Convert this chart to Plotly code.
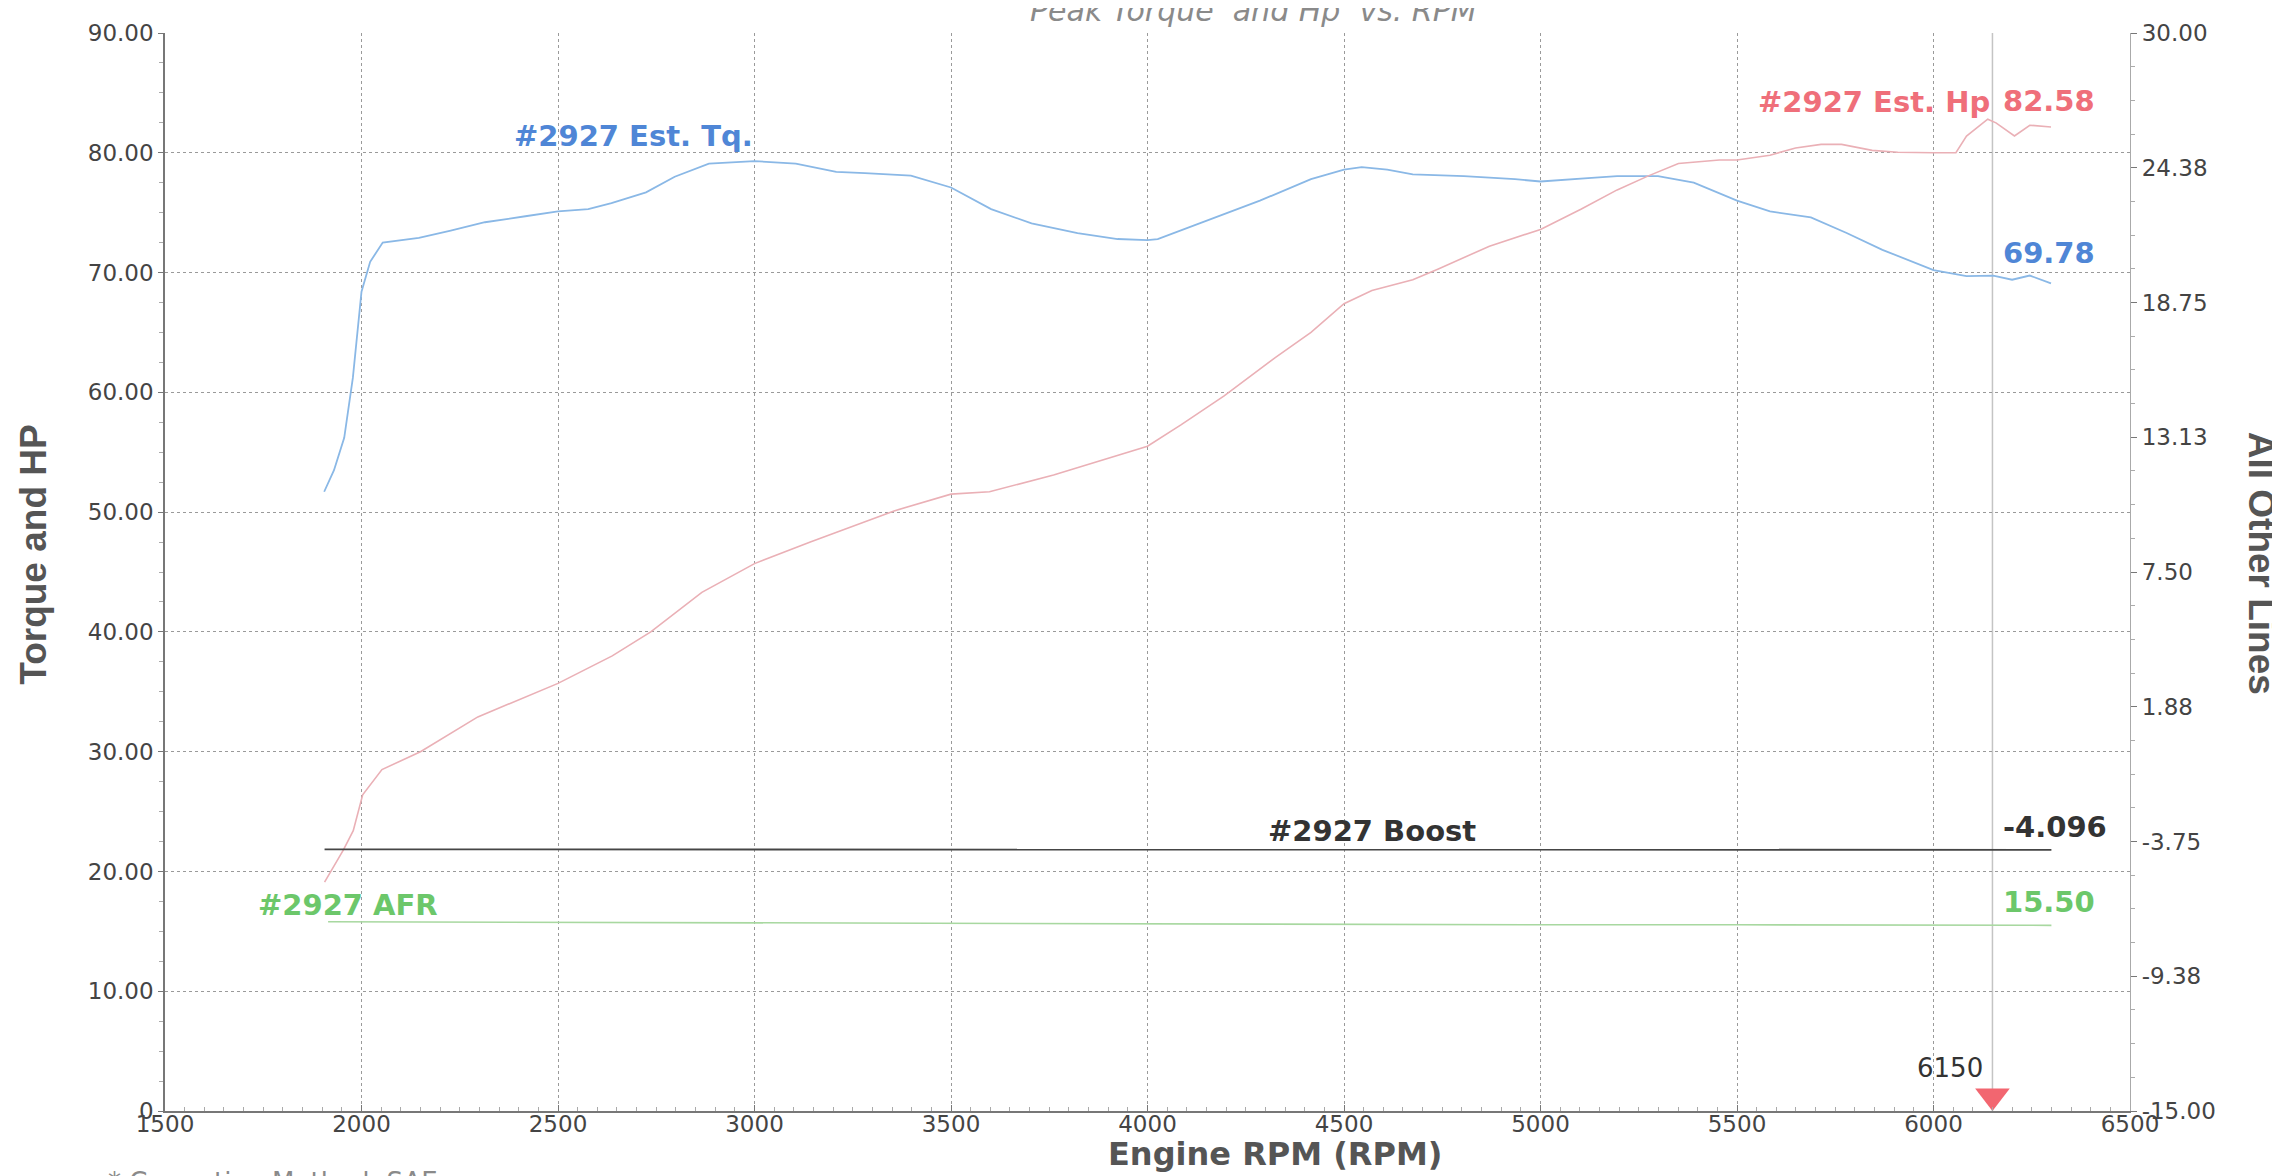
import plotly.graph_objects as go

# ---------------- data ----------------
tq_rpm = [1905, 1930, 1956, 1978, 2000, 2022, 2054, 2146, 2227, 2314, 2417, 2500, 2577, 2636,
          2724, 2797, 2884, 2943, 3000, 3105, 3208, 3281, 3398, 3500, 3602, 3705, 3822, 3924,
          4000, 4026, 4156, 4286, 4416, 4500, 4545, 4610, 4675, 4805, 4935, 5000, 5130, 5195,
          5299, 5390, 5500, 5584, 5688, 5779, 5870, 6000, 6084, 6152, 6200, 6245, 6299]
tq_val = [51.7, 53.5, 56.2, 61.2, 68.4, 70.9, 72.5, 72.9, 73.5, 74.2, 74.7, 75.1, 75.3, 75.8,
          76.7, 78.0, 79.1, 79.2, 79.3, 79.1, 78.4, 78.3, 78.1, 77.1, 75.3, 74.1, 73.3, 72.8,
          72.7, 72.8, 74.4, 76.0, 77.8, 78.6, 78.8, 78.6, 78.2, 78.05, 77.8, 77.6, 77.9, 78.05,
          78.05, 77.5, 76.0, 75.1, 74.6, 73.3, 71.9, 70.2, 69.7, 69.75, 69.4, 69.75, 69.1]

hp_rpm = [1906, 1954, 1979, 2003, 2052, 2150, 2296, 2500, 2638, 2736, 2866, 3000, 3142, 3355,
          3500, 3598, 3761, 4000, 4086, 4195, 4325, 4416, 4500, 4571, 4675, 4740, 4870, 5000,
          5104, 5195, 5273, 5351, 5455, 5500, 5584, 5649, 5714, 5766, 5844, 5909, 6000, 6057,
          6084, 6138, 6159, 6206, 6245, 6299]
hp_val = [19.1, 21.8, 23.4, 26.4, 28.5, 30.0, 32.9, 35.7, 38.0, 40.0, 43.3, 45.7, 47.5, 50.1,
          51.5, 51.7, 53.1, 55.5, 57.3, 59.7, 62.9, 65.0, 67.4, 68.5, 69.4, 70.3, 72.2, 73.6,
          75.3, 76.9, 78.05, 79.1, 79.4, 79.4, 79.8, 80.4, 80.7, 80.7, 80.2, 80.05, 80.0, 80.0,
          81.4, 82.8, 82.5, 81.4, 82.3, 82.15]

afr_rpm = [1915, 2500, 3000, 3500, 4000, 4500, 5000, 5500, 6000, 6300]
afr_val = [15.8, 15.75, 15.7, 15.65, 15.65, 15.6, 15.55, 15.55, 15.5, 15.5]

boost_rpm = [1906, 3000, 4000, 5000, 6000, 6300]
boost_val = [-4.08, -4.08, -4.08, -4.09, -4.096, -4.096]

marker_rpm = 6150

x_ticks = [1500, 2000, 2500, 3000, 3500, 4000, 4500, 5000, 5500, 6000, 6500]
left_ticks = [0, 10, 20, 30, 40, 50, 60, 70, 80, 90]
left_ticktext = ["0", "10.00", "20.00", "30.00", "40.00", "50.00", "60.00", "70.00", "80.00", "90.00"]
right_ticks = [-15, -9.375, -3.75, 1.875, 7.5, 13.125, 18.75, 24.375, 30]
right_ticktext = ["-15.00", "-9.38", "-3.75", "1.88", "7.50", "13.13", "18.75", "24.38", "30.00"]

# ---------------- styles ----------------
FONT = "DejaVu Sans, Verdana, sans-serif"
FONT_N = "Liberation Sans, Arial, sans-serif"
C_TQ_LINE = "#8ab8e6"
C_TQ_TXT = "#4f86d6"
C_HP_LINE = "#eab0b6"
C_HP_TXT = "#ef6f7a"
C_AFR_LINE = "#a8d8a0"
C_AFR_TXT = "#6cc76a"
C_BOOST = "#454545"
GRID = "#9a9a9a"
AX = "#777777"
TICKFONT = dict(family=FONT, size=23, color="#444444")

fig = go.Figure()

fig.add_trace(go.Scatter(x=tq_rpm, y=tq_val, mode="lines", line=dict(color=C_TQ_LINE, width=1.8),
                         name="#2927 Est. Tq.", yaxis="y"))
fig.add_trace(go.Scatter(x=hp_rpm, y=hp_val, mode="lines", line=dict(color=C_HP_LINE, width=1.6),
                         name="#2927 Est. Hp", yaxis="y"))
fig.add_trace(go.Scatter(x=afr_rpm, y=afr_val, mode="lines", line=dict(color=C_AFR_LINE, width=1.6),
                         name="#2927 AFR", yaxis="y"))
fig.add_trace(go.Scatter(x=boost_rpm, y=boost_val, mode="lines", line=dict(color=C_BOOST, width=1.8),
                         name="#2927 Boost", yaxis="y2"))
fig.add_trace(go.Scatter(x=[marker_rpm], y=[1.25], mode="markers",
                         marker=dict(symbol="triangle-down", size=30, color="#f26670", line=dict(width=0)),
                         yaxis="y", showlegend=False))

fig.add_shape(type="line", xref="x", yref="paper", x0=marker_rpm, x1=marker_rpm, y0=0, y1=1,
              line=dict(color="#c4c4c4", width=1.5), layer="below")


def ann(text, x, y, color, size=29, bold=True, xref="x", yref="y", family=FONT,
        xanchor="center", yanchor="middle", **kw):
    fig.add_annotation(text=("<b>%s</b>" % text) if bold else text, x=x, y=y, xref=xref, yref=yref,
                       xanchor=xanchor, yanchor=yanchor, showarrow=False,
                       font=dict(family=family, size=size, color=color), **kw)


ann("#2927 Est. Tq.", 3000, 81.4, C_TQ_TXT, xanchor="right")
ann("#2927 Est. Hp", 6148, 84.2, C_HP_TXT, xanchor="right")
ann("82.58", 6172, 84.3, C_HP_TXT, xanchor="left")
ann("69.78", 6172, 71.6, C_TQ_TXT, xanchor="left")
ann("#2927 Boost", 4570, 23.4, "#333333")
ann("-4.096", 6172, 23.7, "#333333", xanchor="left")
ann("#2927 AFR", 1966, 17.2, C_AFR_TXT)
ann("15.50", 6172, 17.45, C_AFR_TXT, xanchor="left")
ann("6150", 6043, 3.6, "#333333", size=26, bold=False)

# axis titles and page texts
ann("Torque and HP", -0.0667, 0.516, "#555555", size=37, xref="paper", yref="paper",
    family=FONT_N, textangle=-90)
ann("All Other Lines", 1.067, 0.508, "#555555", size=37, xref="paper", yref="paper",
    family=FONT_N, textangle=90)
ann("Engine RPM (RPM)", 0.565, -0.040, "#555555", size=32, xref="paper", yref="paper")
ann("<i>Peak Torque  and Hp  vs. RPM</i>", 0.554, 1.021, "#8a8a8a", size=30, bold=False,
    xref="paper", yref="paper")
ann("* Correction Method: SAE", -0.03, -0.066, "#8a8a8a", size=26, bold=False,
    xref="paper", yref="paper", xanchor="left")

fig.update_layout(
    width=2280, height=1176,
    margin=dict(l=157, r=158, t=21, b=73),
    paper_bgcolor="white", plot_bgcolor="white",
    showlegend=False,
    xaxis=dict(range=[1500, 6500], tickvals=x_ticks, ticktext=[str(v) for v in x_ticks],
               showgrid=True, gridcolor=GRID, griddash="dot", gridwidth=1,
               showline=True, linecolor=AX, linewidth=1.5, zeroline=False,
               ticks="inside", ticklen=6, tickcolor=AX, ticklabelstandoff=-8,
               minor=dict(dtick=50, ticks="inside", ticklen=4, tickcolor="#aaaaaa", showgrid=False),
               tickfont=TICKFONT),
    yaxis=dict(range=[0, 90], tickvals=left_ticks, ticktext=left_ticktext,
               showgrid=True, gridcolor=GRID, griddash="dot", gridwidth=1,
               showline=True, linecolor=AX, linewidth=1.5, zeroline=False,
               ticks="outside", ticklen=5, tickcolor=AX,
               minor=dict(dtick=2.5, ticks="outside", ticklen=4, tickcolor="#aaaaaa", showgrid=False),
               tickfont=TICKFONT),
    yaxis2=dict(range=[-15, 30], tickvals=right_ticks, ticktext=right_ticktext, overlaying="y",
                side="right", showgrid=False, zeroline=False,
                showline=True, linecolor="#aaaaaa", linewidth=1.2,
                ticks="outside", ticklen=6, tickcolor=AX,
                minor=dict(dtick=5.625 / 4, tick0=-15, ticks="outside", ticklen=4,
                           tickcolor="#aaaaaa", showgrid=False),
                tickfont=TICKFONT),
)

fig.write_html("out.html")
